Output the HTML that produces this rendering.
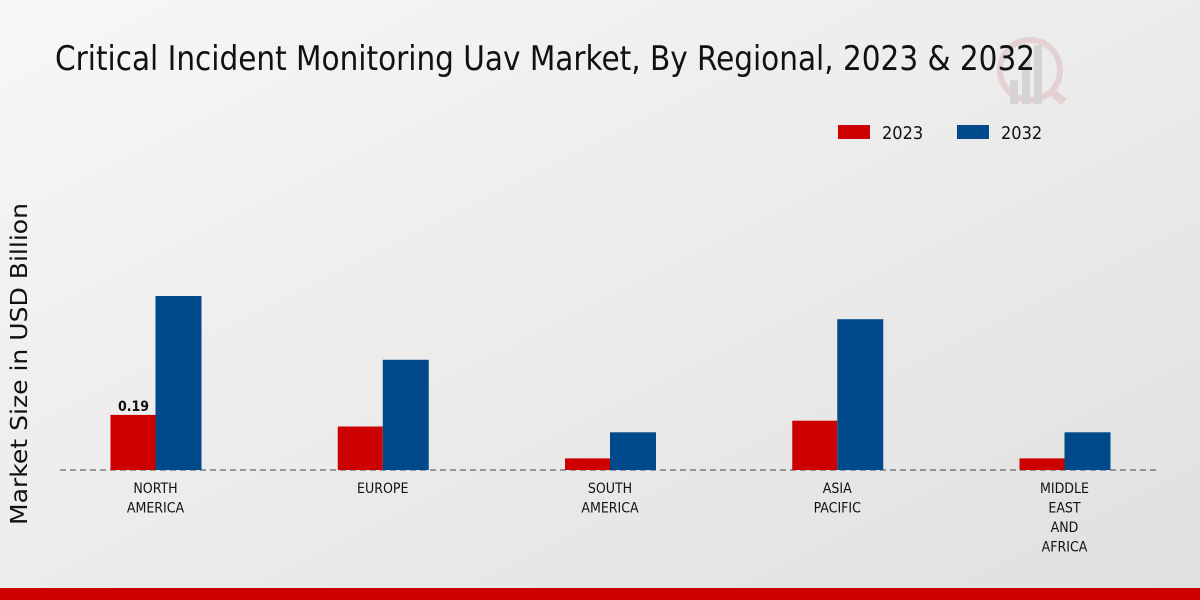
<!DOCTYPE html>
<html><head><meta charset="utf-8"><style>
body{margin:0;width:1200px;height:600px;overflow:hidden;}
svg{display:block;font-family:"DejaVu Sans Condensed","Liberation Sans",sans-serif;}
</style></head><body>
<svg id="c" width="1200" height="600">
<defs><linearGradient id="bg" x1="0" y1="0" x2="1" y2="1"><stop offset="0" stop-color="#f7f7f7"/><stop offset="1" stop-color="#e0e0e1"/></linearGradient></defs>
<rect width="1200" height="600" fill="url(#bg)"/>
<g opacity="0.35">
<circle cx="1030" cy="70" r="30" fill="none" stroke="#d9a0a0" stroke-width="6"/>
<line x1="1052" y1="92" x2="1064" y2="102" stroke="#d9a0a0" stroke-width="8"/>
<rect x="1010" y="80" width="8" height="24" fill="#aaa"/><rect x="1022" y="60" width="8" height="44" fill="#aaa"/><rect x="1034" y="45" width="8" height="59" fill="#aaa"/>
</g>
<text x="55" y="70" font-size="34" textLength="980" lengthAdjust="spacingAndGlyphs" fill="#111">Critical Incident Monitoring Uav Market, By Regional, 2023 &amp; 2032</text>
<g>
<rect x="838" y="125" width="32" height="14" fill="#cc0000"/>
<text x="882" y="139" font-size="18" fill="#111">2023</text>
<rect x="957" y="125" width="32" height="14" fill="#004a8c"/>
<text x="1001" y="139" font-size="18" fill="#111">2032</text>
</g>
<text transform="translate(27,364) rotate(-90)" text-anchor="middle" font-size="23" textLength="322" lengthAdjust="spacingAndGlyphs" fill="#111" font-family="DejaVu Sans, sans-serif">Market Size in USD Billion</text>
<line x1="60" y1="470" x2="1160" y2="470" stroke="#444" stroke-dasharray="6,4"/>
<g id="bars"></g>
<rect x="0" y="588" width="1200" height="12" fill="#cc0000"/>
</svg>
<script>
const categories=[["NORTH","AMERICA"],["EUROPE"],["SOUTH","AMERICA"],["ASIA","PACIFIC"],["MIDDLE","EAST","AND","AFRICA"]];
const values2023=[0.19,0.15,0.04,0.17,0.04];
const values2032=[0.60,0.38,0.13,0.52,0.13];
const valueLabels=["0.19","","","",""];
const ns="http://www.w3.org/2000/svg";
const g=document.getElementById('bars');
const y=v=>470-v*(174/0.6);
const xc=i=>155.5+i*227.25;
function mk(t,a){const e=document.createElementNS(ns,t);for(const k in a)e.setAttribute(k,a[k]);g.appendChild(e);return e;}
categories.forEach((c,i)=>{
 const r1=mk('rect',{x:xc(i)-45,y:y(values2023[i]),width:45,height:470-y(values2023[i]),fill:'#cc0000'});
 
 
 const r2=mk('rect',{x:xc(i),y:y(values2032[i]),width:46,height:470-y(values2032[i]),fill:'#004a8c'});
 
 
 if(valueLabels[i]){const t=mk('text',{x:xc(i)-22,y:y(values2023[i])-4,'text-anchor':'middle','font-size':14,'font-weight':'bold',fill:'#111'});t.textContent=valueLabels[i];
 
 }
 c.forEach((l,j)=>{const t=mk('text',{x:xc(i),y:493+j*19.5,'text-anchor':'middle','font-size':14,fill:'#111'});t.textContent=l;
 
 });
});
</script>
</body></html>
